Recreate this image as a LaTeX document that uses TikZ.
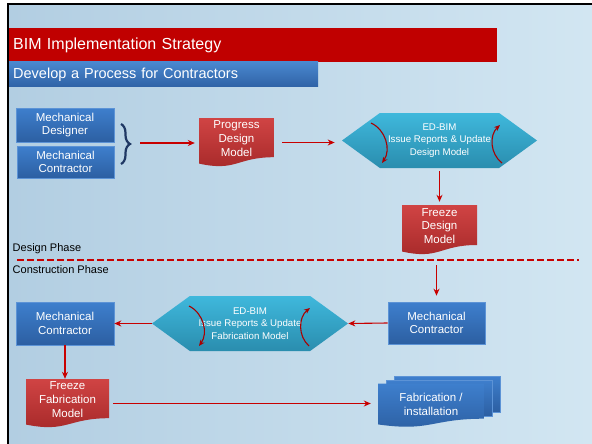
\documentclass[tikz,border=0pt]{standalone}
\usepackage{fontspec}
\setmainfont{Liberation Sans}
\usepackage{tikz}
\usetikzlibrary{shapes.symbols,arrows.meta,calc,decorations.pathreplacing}

\definecolor{bgleft}{HTML}{B2CEE2}
\definecolor{bgright}{HTML}{D2E6F2}
\definecolor{titlered}{HTML}{C00000}
\definecolor{subtop}{HTML}{4A88CF}
\definecolor{subbot}{HTML}{2F62A6}
\definecolor{boxtop}{HTML}{3E7FCD}
\definecolor{boxbot}{HTML}{2C5FA2}
\definecolor{boxedge}{HTML}{5C93D6}
\definecolor{doctop}{HTML}{D04444}
\definecolor{docbot}{HTML}{A52828}
\definecolor{hextop}{HTML}{3FB8DC}
\definecolor{hexbot}{HTML}{2A8DAE}
\definecolor{arrred}{HTML}{C80000}
\definecolor{turnred}{HTML}{A80000}
\definecolor{bracenavy}{HTML}{1F3864}

\begin{document}
\begin{tikzpicture}[x=1pt, y=-1pt,
	bluebox/.style={font=\fontsize{11.5}{13.5}\selectfont, text=white, draw=boxedge, line width=0.6, top color=boxtop, bottom color=boxbot, align=center, inner sep=0},
	reddoc/.style={top color=doctop, bottom color=docbot},
	bluedoc/.style={top color=boxtop, bottom color=boxbot},
	docbox/.style={font=\fontsize{11.5}{13.8}\selectfont, text=white, align=center, inner sep=0, text depth=8pt,
		path picture={\shade[#1] let \p1=(path picture bounding box.north west), \p2=(path picture bounding box.south east) in
			(\x1,\y1) -- (\x2,\y1) -- (\x2,{\y1+0.8*(\y2-\y1)})
			.. controls ({(\x1+\x2)/2},{\y1+0.8*(\y2-\y1)}) and ({(\x1+\x2)/2},{\y1+1.1*(\y2-\y1)}) .. (\x1,{\y1+0.93*(\y2-\y1)}) -- cycle;}},
	docbox/.default=reddoc,
	hexbox/.style={signal, signal to=west and east, signal pointer angle=72, top color=hextop, bottom color=hexbot, text=white, font=\fontsize{9.7}{12.5}\selectfont, align=center, inner sep=0},
	arr/.style={draw=arrred, line width=1.1, -{Stealth[length=7pt,width=6pt]}},
	turnarr/.style={draw=turnred, line width=1.1, -{Stealth[length=6pt,width=5pt]}},
	phase/.style={font=\fontsize{11}{13}\selectfont, anchor=west, inner sep=0}
]
\useasboundingbox (0,0) rectangle (592,444);
% slide
\fill[white] (0,0) rectangle (592,444);
\shade[left color=bgleft, right color=bgright] (8,4) rectangle (592,444);
\draw[black, line width=2.5] (8,444) -- (8,4) -- (592,4);

\node[fill=titlered, text=white, font=\fontsize{16}{19}\selectfont, anchor=west, minimum height=34, text width=480, inner xsep=4, inner ysep=0, align=left] (title) at (9,45) {BIM Implementation Strategy};
\node[top color=subtop, bottom color=subbot, text=white, font=\fontsize{14.5}{17}\selectfont, anchor=west, minimum height=25, text width=301, inner xsep=4, inner ysep=0, align=left] (subtitle) at (9,74.5) {Develop a Process for Contractors};

% design phase
\node[bluebox, minimum width=98, minimum height=34] (mdes) at (65,125) {Mechanical\\Designer};
\node[bluebox, minimum width=97, minimum height=32] (mcona) at (65.5,162) {Mechanical\\Contractor};
\coordinate (brtop) at (121,124);
\coordinate (brbot) at (121,164);
\coordinate (brtip) at (140,143);
\draw[decorate, decoration={brace, amplitude=9pt}, draw=bracenavy, line width=2.2] (brtop) -- (brbot);

\node[docbox, minimum width=75, minimum height=49] (prog) at (236.5,142.5) {Progress\\Design\\Model};
\node[hexbox, minimum width=195, minimum height=55] (hexa) at (439.5,140.5) {ED-BIM\\Issue Reports \& Update\\Design Model};
\node[docbox, minimum width=75, minimum height=50] (fdes) at (439.5,230) {Freeze\\Design\\Model};

\draw[arr, shorten >=4] (brtip) -- (brtip -| prog.west);
\draw[arr, shorten <=8, shorten >=7] (prog.east) -- (prog.east -| hexa.west);
\draw[arr, shorten <=3, shorten >=3] (hexa.south) -- (fdes.north);
\draw[turnarr] ([shift={(-68.5,-17.5)}]hexa.center) to[bend left=50] ([shift={(-57.5,22.5)}]hexa.center);
\draw[turnarr] ([shift={(62.5,22.5)}]hexa.center) to[bend left=50] ([shift={(60.5,-15.5)}]hexa.center);

% phase line
\node[phase] (dphase) at (12.5,249) {Design Phase};
\node[phase] (cphase) at (12.5,270) {Construction Phase};
\draw[arrred, line width=2.5, dash pattern=on 7pt off 3pt] (17,260) -- (579,260);

% construction phase
\node[bluebox, minimum width=97, minimum height=42] (mconb) at (436.5,323) {Mechanical\\Contractor};
\node[hexbox, minimum width=196, minimum height=55] (hexb) at (250,323.5) {ED-BIM\\Issue Reports \& Update\\Fabrication Model};
\node[bluebox, minimum width=98, minimum height=43] (mconc) at (65,323.5) {Mechanical\\Contractor};
\node[docbox, minimum width=83, minimum height=49] (ffab) at (67.5,403.5) {Freeze\\Fabrication\\Model};

\coordinate (fabc) at (431,405.5);
\foreach \s in {2,1}
	\path[bluedoc, draw=boxedge, line width=0.6] ([shift={(-53+8*\s,-21.5-4*\s)}]fabc) rectangle ++(106,36);
\node[docbox=bluedoc, minimum width=106, minimum height=44, text depth=3pt] (fab) at (fabc) {Fabrication /\\installation};

\draw[arr, shorten <=10, shorten >=6] (mconb.north |- fdes.south) -- (mconb.north);
\draw[arr] (mconb.west) -- (hexb.east);
\draw[arr] (hexb.west) -- (mconc.east);
\draw[arr] (mconc.south) -- (mconc.south |- ffab.north);
\draw[arr, shorten <=4, shorten >=7] (ffab.east) -- (ffab.east -| fab.west);
\draw[turnarr] ([shift={(-61,-17.5)}]hexb.center) to[bend left=50] ([shift={(-51,22.5)}]hexb.center);
\draw[turnarr] ([shift={(59,22.5)}]hexb.center) to[bend left=50] ([shift={(60,-15.5)}]hexb.center);
\end{tikzpicture}
\end{document}
